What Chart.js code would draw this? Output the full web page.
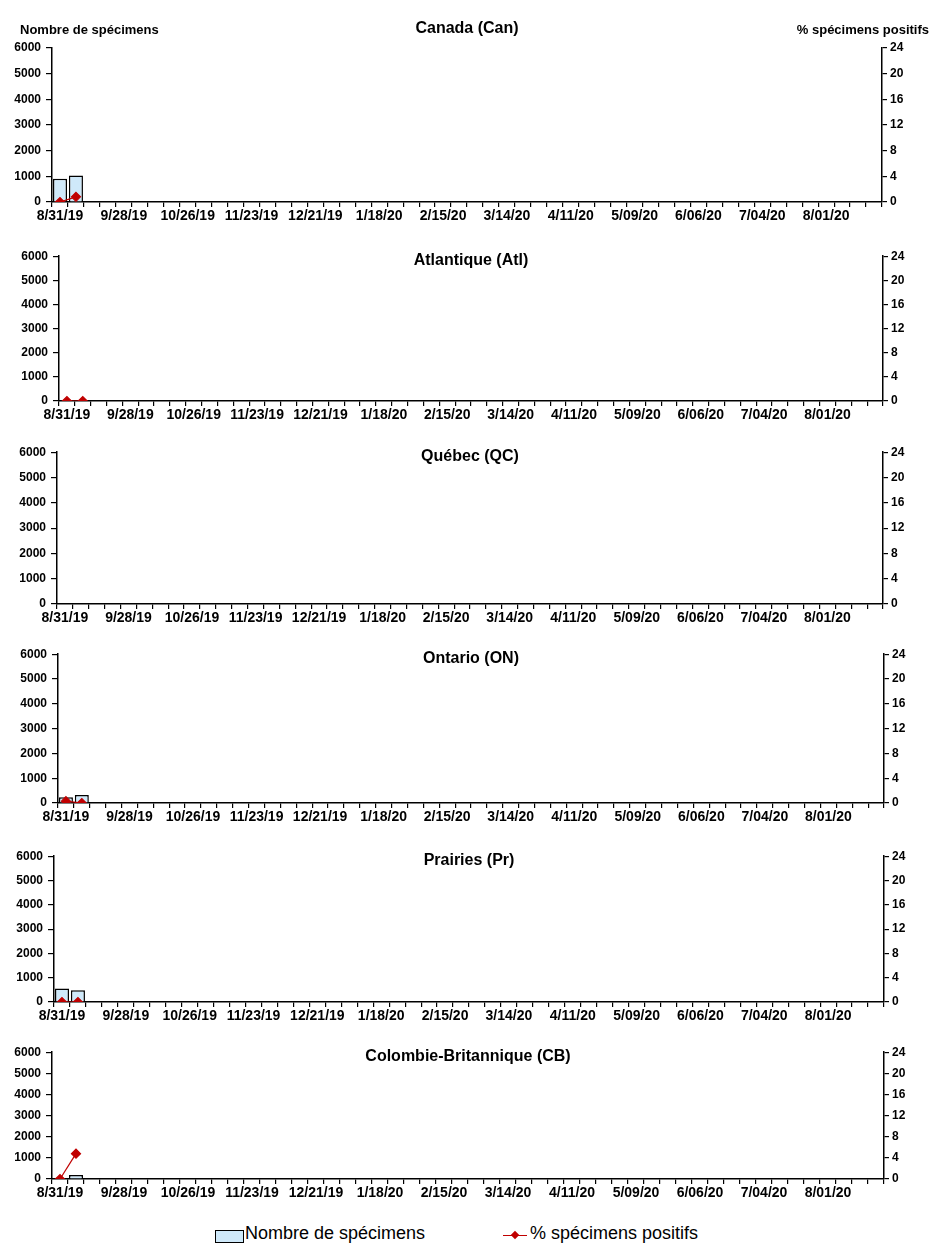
<!DOCTYPE html>
<html>
<head>
<meta charset="utf-8">
<script src="https://cdn.jsdelivr.net/npm/chart.js@4.4.1/dist/chart.umd.min.js"></script>
<style>
  body { margin: 0; background: #fff; font-family: "Liberation Sans", Arial, sans-serif; }
  #page { position: relative; width: 935px; height: 1257px; }
  .panel { position: absolute; left: 0; width: 935px; }
  .legend { position: absolute; top: 1222px; left: 0; width: 935px; height: 26px; font-size: 18px; color: #000; }
  .legend span { position: absolute; top: 1px; white-space: nowrap; }
  .box { position: absolute; left: 215px; top: 8px; width: 27px; height: 11px; background: #cfe9fa; border: 1px solid #000; }
  .lline { position: absolute; left: 503px; top: 13px; width: 24px; height: 1px; background: #c00000; }
  .ldot { position: absolute; left: 512px; top: 10px; width: 6px; height: 6px; background: #c00000; transform: rotate(45deg); }
</style>
</head>
<body>
<div id="page">
  <div class="panel" id="p0"><canvas id="c0"></canvas></div>
  <div class="panel" id="p1"><canvas id="c1"></canvas></div>
  <div class="panel" id="p2"><canvas id="c2"></canvas></div>
  <div class="panel" id="p3"><canvas id="c3"></canvas></div>
  <div class="panel" id="p4"><canvas id="c4"></canvas></div>
  <div class="panel" id="p5"><canvas id="c5"></canvas></div>
  <div class="legend">
    <div class="box"></div><span style="left:245px">Nombre de spécimens</span>
    <div class="lline"></div><div class="ldot"></div><span style="left:530px">% spécimens positifs</span>
  </div>
</div>
<script>
// weekly report dates (week ending)
var weeks = ['8/31/19','9/07/19','9/14/19','9/21/19','9/28/19','10/05/19','10/12/19','10/19/19',
  '10/26/19','11/02/19','11/09/19','11/16/19','11/23/19','11/30/19','12/07/19','12/14/19',
  '12/21/19','12/28/19','1/04/20','1/11/20','1/18/20','1/25/20','2/01/20','2/08/20',
  '2/15/20','2/22/20','2/29/20','3/07/20','3/14/20','3/21/20','3/28/20','4/04/20',
  '4/11/20','4/18/20','4/25/20','5/02/20','5/09/20','5/16/20','5/23/20','5/30/20',
  '6/06/20','6/13/20','6/20/20','6/27/20','7/04/20','7/11/20','7/18/20','7/25/20',
  '8/01/20','8/08/20','8/15/20','8/22/20'];

var regions = ['Canada (Can)', 'Atlantique (Atl)', 'Québec (QC)', 'Ontario (ON)', 'Prairies (Pr)', 'Colombie-Britannique (CB)'];

// Nombre de spécimens (only the first weeks reported)
var specCan = [910, 1030];
var specAtl = [30, 20];
var specQC = [];
var specON = [230, 320];
var specPr = [560, 480];
var specCB = [20, 185];

// % spécimens positifs
var pctCan = [0, 0.8];
var pctAtl = [0, 0];
var pctQC = [];
var pctON = [0.3, 0];
var pctPr = [0, 0];
var pctCB = [0, 4.8];

var countTicks = [0, 1000, 2000, 3000, 4000, 5000, 6000];
var pctTicks = [0, 4, 8, 12, 16, 20, 24];

var specs = [specCan, specAtl, specQC, specON, specPr, specCB];
var pcts = [pctCan, pctAtl, pctQC, pctON, pctPr, pctCB];

// plot area of each panel on the page: top, bottom, left, right
var boxes = [
  [48, 202, 52, 882],
  [254, 401, 59, 883],
  [450, 604, 57, 883],
  [652, 803, 58, 884],
  [854, 1002, 54, 884],
  [1050, 1179, 52, 884]
];

var FONT = '"Liberation Sans", Arial, sans-serif';
var XAXIS_H = 28;

// title drawn over the top of the plot area
var panelTitle = {
  id: 'panelTitle',
  afterDraw: function(chart, args, opts) {
    var ctx = chart.ctx, a = chart.chartArea;
    ctx.save();
    ctx.fillStyle = '#000';
    ctx.textBaseline = 'middle';
    ctx.font = 'bold 16px ' + FONT;
    ctx.textAlign = 'center';
    ctx.fillText(opts.text, (a.left + a.right) / 2, a.top + opts.dy);
    if (opts.axisTitles) {
      ctx.font = 'bold 13px ' + FONT;
      ctx.textAlign = 'left';
      ctx.fillText('Nombre de spécimens', 20, a.top + opts.dy + 1);
      ctx.textAlign = 'right';
      ctx.fillText('% spécimens positifs', 929, a.top + opts.dy + 1);
    }
    ctx.restore();
  }
};

function plain(v) { return String(v); }

for (var i = 0; i < 6; i++) {
  var b = boxes[i];
  var padTop = i === 0 ? 48 : 10;
  var div = document.getElementById('p' + i);
  div.style.top = (b[0] - padTop) + 'px';
  div.style.height = (b[1] - b[0] + padTop + XAXIS_H) + 'px';

  (function(b, padTop, i) {
    new Chart(document.getElementById('c' + i), {
      type: 'bar',
      data: {
        labels: weeks,
        datasets: [{
          type: 'line',
          label: '% spécimens positifs',
          data: pcts[i],
          yAxisID: 'y2',
          borderColor: '#c00000',
          backgroundColor: '#c00000',
          borderWidth: 1.2,
          pointStyle: 'rectRot',
          pointRadius: 4.5,
          tension: 0,
          order: 1
        }, {
          label: 'Nombre de spécimens',
          data: specs[i],
          yAxisID: 'y',
          backgroundColor: '#cfe9fa',
          borderColor: '#000',
          borderWidth: 1.5,
          barPercentage: 0.88,
          categoryPercentage: 1,
          order: 2
        }]
      },
      options: {
        responsive: true,
        maintainAspectRatio: false,
        animation: false,
        layout: { padding: { top: padTop, bottom: 0, left: 0, right: 0 } },
        plugins: {
          legend: { display: false },
          tooltip: { enabled: false },
          panelTitle: { text: regions[i], dy: i === 0 ? -19 : 4, axisTitles: i === 0 }
        },
        scales: {
          x: {
            offset: true,
            grid: { offset: true, drawOnChartArea: false, tickLength: 5, color: '#000', lineWidth: 1.2 },
            border: { color: '#000', width: 1.5 },
            ticks: {
              autoSkip: false, maxRotation: 0, padding: 1,
              color: '#000', font: { family: FONT, size: 14, weight: 'bold' },
              callback: function(v, idx) { return idx % 4 === 0 ? weeks[idx] : ''; }
            },
            afterFit: function(s) { s.height = XAXIS_H; }
          },
          y: {
            position: 'left',
            min: 0, max: 6000,
            afterBuildTicks: function(s) { s.ticks = countTicks.map(function(v) { return { value: v }; }); },
            grid: { drawOnChartArea: false, tickLength: 6, color: '#000', lineWidth: 1.2 },
            border: { color: '#000', width: 1.5 },
            ticks: { padding: 5, color: '#000', font: { family: FONT, size: 12, weight: 'bold' }, callback: plain },
            afterFit: function(s) { s.width = b[2]; }
          },
          y2: {
            position: 'right',
            min: 0, max: 24,
            afterBuildTicks: function(s) { s.ticks = pctTicks.map(function(v) { return { value: v }; }); },
            grid: { drawOnChartArea: false, tickLength: 5, color: '#000', lineWidth: 1.2 },
            border: { color: '#000', width: 1.5 },
            ticks: { padding: 3, color: '#000', font: { family: FONT, size: 12, weight: 'bold' }, callback: plain },
            afterFit: function(s) { s.width = 935 - b[3]; }
          }
        }
      },
      plugins: [panelTitle]
    });
  })(b, padTop, i);
}
</script>
</body>
</html>
